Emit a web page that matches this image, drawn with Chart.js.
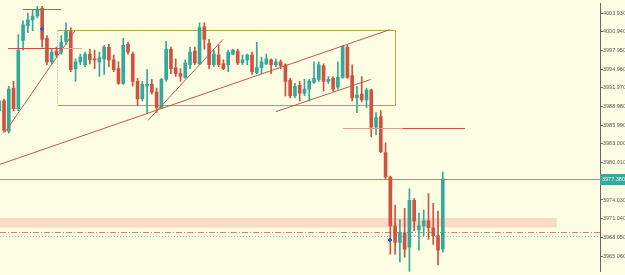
<!DOCTYPE html>
<html>
<head>
<meta charset="utf-8">
<script src="https://cdn.jsdelivr.net/npm/chart.js@4.4.1/dist/chart.umd.min.js"></script>
<style>
  html, body { margin: 0; padding: 0; background: #fdfde3; }
</style>
</head>
<body>
<canvas id="priceChart" width="625" height="275"></canvas>
<script>
// candle index (first one is cut by the left edge)
const candleIndex = Array.from({ length: 94 }, (_, k) => k - 1);

const opens = [3988.32, 3989.88, 3985.04, 3991.91, 3988.63, 3999.56, 4001.90, 4002.84, 4003.46, 4004.71,
  3999.87, 3996.12, 3997.84, 3997.69, 3999.40, 4000.96, 3995.03, 3996.12, 3995.66, 3997.37,
  3996.59, 3996.12, 3996.59, 3998.47, 3996.44, 3995.03, 3992.69, 3998.93, 3997.37, 3993.00,
  3990.19, 3992.22, 3992.53, 3991.29, 3988.79, 3993.31, 3998.15, 3995.19, 3994.25, 3993.63,
  3995.66, 3997.84, 3995.81, 4001.74, 3999.09, 3995.66, 3997.22, 3995.81, 3995.66, 3997.37,
  3997.84, 3995.97, 3996.44, 3997.22, 3994.41, 3995.19, 3995.81, 3996.44, 3995.66, 3996.12,
  3995.66, 3993.16, 3990.66, 3992.38, 3991.13, 3991.75, 3992.85, 3993.31, 3995.50, 3993.00,
  3993.47, 3992.07, 3993.63, 3998.47, 3993.94, 3990.35, 3990.97, 3990.04, 3991.60, 3985.67,
  3987.38, 3981.61, 3977.70, 3969.90, 3967.25, 3968.81, 3966.47, 3973.96, 3969.27, 3969.90,
  3970.68, 3969.59, 3968.34, 3966.15];

const highs = [3990.19, 3990.19, 3992.22, 3993.00, 4000.49, 4002.68, 4003.93, 4004.40, 4005.02, 4005.02,
  4000.34, 3998.15, 3998.47, 4000.34, 4002.37, 4001.59, 3996.59, 3997.37, 3997.69, 3998.15,
  3998.00, 3997.69, 3998.78, 3998.93, 3997.22, 3996.12, 3999.87, 3999.25, 3997.69, 3993.47,
  3993.00, 3994.88, 3993.31, 3991.91, 3993.47, 3999.40, 3998.47, 3996.59, 3995.03, 3996.44,
  3998.47, 3998.47, 4002.37, 4002.37, 3999.71, 3998.00, 3998.78, 3996.44, 3998.00, 3998.15,
  3998.15, 3997.22, 3997.37, 3997.69, 3999.25, 3996.90, 3997.37, 3996.59, 3996.59, 3996.44,
  3995.81, 3993.47, 3992.69, 3993.00, 3993.31, 3993.31, 3996.12, 3996.12, 3995.81, 3993.78,
  3993.78, 3996.12, 3998.78, 3998.78, 3995.66, 3992.22, 3993.78, 3991.91, 3991.75, 3988.01,
  3988.32, 3983.17, 3977.86, 3973.18, 3970.84, 3972.71, 3975.83, 3974.27, 3971.93, 3972.40,
  3975.05, 3973.49, 3972.24, 3978.49];

const lows = [3988.01, 3984.89, 3984.73, 3988.32, 3988.32, 3998.00, 4000.81, 4001.12, 4003.15, 3998.47,
  3995.66, 3995.81, 3996.90, 3997.37, 3998.93, 3994.56, 3993.00, 3995.66, 3995.34, 3995.81,
  3995.03, 3993.78, 3994.10, 3995.34, 3994.56, 3992.53, 3992.53, 3997.37, 3992.22, 3989.10,
  3989.88, 3988.01, 3990.97, 3988.01, 3988.63, 3993.00, 3994.25, 3993.78, 3993.00, 3993.47,
  3995.03, 3995.66, 3995.66, 3998.15, 3995.03, 3995.34, 3995.34, 3994.88, 3994.56, 3997.22,
  3995.66, 3995.66, 3995.66, 3994.10, 3994.25, 3994.25, 3995.66, 3994.25, 3995.34, 3995.03,
  3990.66, 3990.35, 3990.35, 3989.88, 3990.66, 3989.88, 3992.69, 3993.00, 3991.44, 3992.69,
  3991.44, 3991.75, 3993.47, 3993.47, 3989.88, 3988.01, 3989.72, 3988.79, 3984.10, 3984.42,
  3981.61, 3977.39, 3965.37, 3965.37, 3964.12, 3964.90, 3962.30, 3969.12, 3966.00, 3968.34,
  3967.71, 3966.93, 3963.65, 3965.68];

const closes = [3989.88, 3985.20, 3991.75, 3988.63, 3998.00, 4002.06, 4002.84, 4003.46, 4004.40, 3999.71,
  3996.12, 3997.69, 3997.22, 3999.25, 4000.96, 3994.88, 3996.12, 3996.90, 3997.37, 3996.44,
  3996.44, 3996.75, 3998.47, 3996.44, 3994.88, 3992.69, 3998.78, 3997.69, 3993.00, 3990.19,
  3992.53, 3992.53, 3991.29, 3988.79, 3993.31, 3998.15, 3995.03, 3994.25, 3993.78, 3995.97,
  3997.69, 3995.97, 4001.59, 3999.71, 3995.66, 3997.37, 3995.66, 3995.03, 3997.69, 3998.00,
  3995.97, 3996.44, 3997.22, 3994.56, 3995.19, 3996.12, 3996.59, 3995.66, 3996.12, 3995.50,
  3993.00, 3990.66, 3992.22, 3991.13, 3991.75, 3993.00, 3993.47, 3995.66, 3993.00, 3993.31,
  3991.75, 3993.63, 3998.62, 3993.63, 3990.35, 3990.82, 3990.04, 3991.60, 3985.67, 3987.23,
  3981.76, 3977.70, 3969.90, 3967.25, 3968.81, 3966.15, 3973.96, 3970.68, 3969.90, 3970.68,
  3969.59, 3968.34, 3966.00, 3977.38];

const tickValues = [3965.06, 3968.05, 3971.04, 3974.03, 3977.02, 3980.01, 3983.00,
  3985.99, 3988.98, 3991.97, 3994.96, 3997.95, 4000.94, 4003.93];

// drawing objects, in candle index / price units
const zoneBox = [11.1, 4001.28, 82.0, 3989.26];
const trendLines = [
  [-0.84, 3979.73, 80.9, 4001.28],
  [0.21, 3984.89, 14.9, 4001.12],
  [30.2, 3986.76, 45.9, 3999.71],
  [57.0, 3988.16, 76.9, 3993.31]
];
const levelTop = [3.98, 11.95, 4004.55];
const levelMid = [0.84, 16.35, 3998.39];
const levelLow = [71.07, 96.65, 3985.51];
const supplyBand = [3971.15, 3969.67, 115.9];
const bidPrice = 3968.96;
const askPrice = 3968.34;
const arrows = [[8, 4001.43], [81, 3967.71]];

const up = '#35a99c';
const down = '#cf5340';
const candleColors = closes.map((c, k) => c >= opens[k] ? up : down);
const lastClose = closes[closes.length - 1];

const drawings = {
  id: 'drawings',
  beforeDatasetsDraw(chart) {
    const { ctx, chartArea: a, scales: { x, y } } = chart;
    ctx.save();
    ctx.beginPath();
    ctx.rect(a.left, a.top, a.width, a.height);
    ctx.clip();

    // supply zone
    const b1 = y.getPixelForValue(supplyBand[0]);
    const b2 = y.getPixelForValue(supplyBand[1]);
    ctx.fillStyle = 'rgba(250, 208, 188, 0.8)';
    ctx.fillRect(a.left, b1, x.getPixelForValue(supplyBand[2]) - a.left, b2 - b1);

    // range box
    const bx1 = Math.round(x.getPixelForValue(zoneBox[0])) + 0.5;
    const bx2 = Math.round(x.getPixelForValue(zoneBox[2])) + 0.5;
    const by1 = Math.round(y.getPixelForValue(zoneBox[1])) + 0.5;
    const by2 = Math.round(y.getPixelForValue(zoneBox[3])) + 0.5;
    ctx.lineWidth = 1;
    ctx.strokeStyle = '#a9a64e';
    ctx.beginPath();
    ctx.moveTo(bx1, by1); ctx.lineTo(bx2, by1); ctx.lineTo(bx2, by2); ctx.lineTo(bx1, by2);
    ctx.stroke();
    ctx.strokeStyle = '#a0a090';
    ctx.setLineDash([1, 2]);
    ctx.beginPath();
    ctx.moveTo(bx1, by1); ctx.lineTo(bx1, by2);
    ctx.stroke();
    ctx.setLineDash([]);

    // bid / ask lines
    const bidY = Math.round(y.getPixelForValue(bidPrice)) + 0.5;
    ctx.strokeStyle = '#c98a78';
    ctx.setLineDash([6, 2, 1, 2]);
    ctx.beginPath(); ctx.moveTo(a.left, bidY); ctx.lineTo(a.right, bidY); ctx.stroke();
    const askY = Math.round(y.getPixelForValue(askPrice)) + 0.5;
    ctx.strokeStyle = '#7ec2bc';
    ctx.setLineDash([1, 2]);
    ctx.beginPath(); ctx.moveTo(a.left, askY); ctx.lineTo(a.right, askY); ctx.stroke();
    ctx.setLineDash([]);

    // last price line
    const lastY = Math.round(y.getPixelForValue(lastClose)) + 0.5;
    ctx.strokeStyle = '#5aaeb0';
    ctx.beginPath(); ctx.moveTo(a.left, lastY); ctx.lineTo(a.right, lastY); ctx.stroke();
    ctx.restore();
  },
  afterDatasetsDraw(chart) {
    const { ctx, chartArea: a, scales: { x, y } } = chart;
    ctx.save();
    ctx.beginPath();
    ctx.rect(a.left, a.top, a.width, a.height);
    ctx.clip();
    ctx.lineWidth = 1;
    ctx.strokeStyle = '#bd5a4c';
    trendLines.forEach(t => {
      ctx.beginPath();
      ctx.moveTo(x.getPixelForValue(t[0]), y.getPixelForValue(t[1]));
      ctx.lineTo(x.getPixelForValue(t[2]), y.getPixelForValue(t[3]));
      ctx.stroke();
    });

    const hline = (i1, i2, p, color) => {
      const py = Math.round(y.getPixelForValue(p)) + 0.5;
      ctx.strokeStyle = color;
      ctx.beginPath();
      ctx.moveTo(x.getPixelForValue(i1), py);
      ctx.lineTo(x.getPixelForValue(i2), py);
      ctx.stroke();
    };
    hline(levelTop[0], levelTop[1], levelTop[2], '#c0544a');
    hline(levelMid[0], 12.16, levelMid[2], '#c0544a');
    hline(12.16, levelMid[1], levelMid[2], '#e6a898');
    hline(levelLow[0], 83.65, levelLow[2], '#d9a090');
    hline(83.65, levelLow[1], levelLow[2], '#c0544a');

    ctx.fillStyle = '#2a5bc4';
    arrows.forEach(m => {
      const px = Math.round(x.getPixelForValue(m[0]));
      const py = Math.round(y.getPixelForValue(m[1]));
      ctx.fillRect(px - 2, py - 1, 4, 2);
      ctx.fillRect(px - 1, py - 2, 2, 4);
    });
    ctx.restore();
  },
  afterDraw(chart) {
    const { ctx, chartArea: a, scales: { y } } = chart;
    const py = Math.round(y.getPixelForValue(lastClose));
    ctx.save();
    ctx.fillStyle = '#3aa89e';
    ctx.fillRect(a.right, py - 5, 25, 11);
    ctx.fillStyle = '#e8fbf6';
    ctx.font = '5.5px "Liberation Sans"';
    ctx.textBaseline = 'middle';
    ctx.fillText(lastClose.toFixed(3), a.right + 2, py + 0.5);
    ctx.restore();
  }
};

const ctx = document.getElementById('priceChart').getContext('2d');
const priceChart = new Chart(ctx, {
  type: 'bar',
  data: {
    datasets: [{
      label: 'wick',
      data: candleIndex.map((i, k) => ({ x: i, y: [lows[k], highs[k]] })),
      backgroundColor: candleColors,
      barThickness: 1,
      grouped: false,
      borderWidth: 0
    }, {
      label: 'body',
      data: candleIndex.map((i, k) => ({ x: i, y: [opens[k], closes[k]] })),
      backgroundColor: candleColors,
      barThickness: 3,
      minBarLength: 1,
      grouped: false,
      borderWidth: 0
    }]
  },
  options: {
    responsive: false,
    animation: false,
    layout: { padding: 0 },
    plugins: {
      legend: { display: false },
      tooltip: { enabled: false }
    },
    scales: {
      x: {
        type: 'linear',
        min: -0.84,
        max: 124.96,
        offset: false,
        display: false
      },
      y: {
        type: 'linear',
        position: 'right',
        min: 3962.56,
        max: 4005.49,
        afterFit: axis => { axis.width = 25; },
        afterBuildTicks: axis => { axis.ticks = tickValues.map(v => ({ value: v })); },
        ticks: {
          autoSkip: false,
          padding: 0,
          color: '#5a5a5a',
          font: { family: 'Liberation Sans', size: 5.5 },
          callback: value => value.toFixed(3)
        },
        grid: {
          drawOnChartArea: false,
          drawTicks: true,
          tickLength: 3,
          color: '#666'
        },
        border: { display: true, color: '#666' }
      }
    }
  },
  plugins: [drawings]
});
</script>
</body>
</html>
